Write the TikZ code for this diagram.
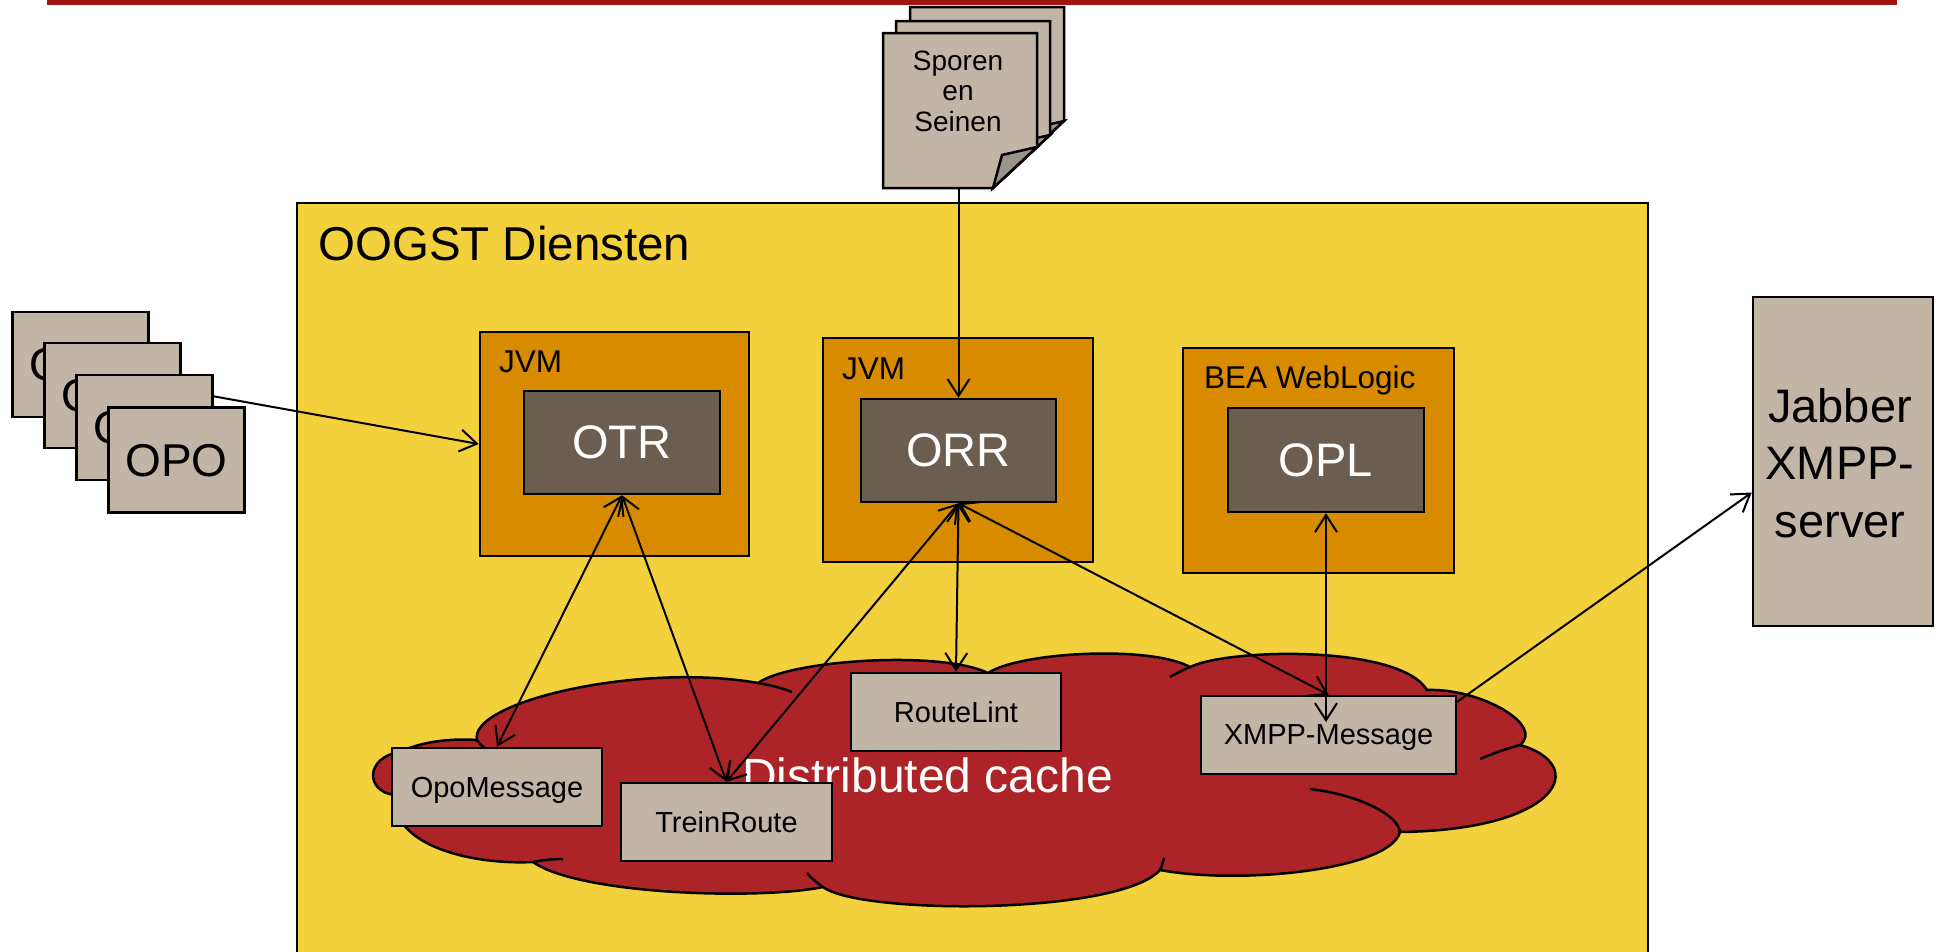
\documentclass[tikz,border=0pt]{standalone}
\usepackage{fontspec}
\setmainfont{Liberation Sans}
\usetikzlibrary{arrows.meta,calc}
\definecolor{gold}{RGB}{242,209,60}
\definecolor{jvmorange}{RGB}{217,139,0}
\definecolor{darkbox}{RGB}{107,94,81}
\definecolor{beige}{RGB}{193,181,166}
\definecolor{cloudred}{RGB}{172,36,40}
\definecolor{topred}{RGB}{160,20,20}
\definecolor{flapgray}{RGB}{155,148,138}
\begin{document}
\begin{tikzpicture}[x=1pt,y=-1pt,
  boxbase/.style={draw=black, line width=2.5pt, inner sep=0pt, text depth=0pt, rectangle},
  beigebox/.style={boxbase, fill=beige},
  jvmbox/.style={boxbase, fill=jvmorange},
  procbox/.style={boxbase, fill=darkbox, text=white, font=\fontsize{47}{56}\selectfont},
  smallbox/.style={beigebox, minimum width=#1, minimum height=78pt, font=\fontsize{29}{35}\selectfont},
  opobox/.style={beigebox, minimum width=136pt, minimum height=105pt, font=\fontsize{46}{55}\selectfont},
  page/.style={draw=black, line width=2.5pt, fill=beige, line join=miter},
  flap/.style={draw=black, line width=2.5pt, fill=flapgray, line join=miter},
  cloudline/.style={draw=black, line width=2.5pt},
  arr/.style={line width=2pt, -{Straight Barb[length=17pt,width=22pt]}},
  darr/.style={line width=2pt, {Straight Barb[length=17pt,width=22pt]}-{Straight Barb[length=17pt,width=22pt]}},
  lbl/.style={anchor=base west, inner sep=0pt, font=\fontsize{31.5}{37}\selectfont}
]
\useasboundingbox (0,0) rectangle (1936,951);
\fill[white] (0,0) rectangle (1936,951);

% top rule
\fill[topred] (47,0) rectangle (1897,5);

% OOGST Diensten container
\draw[line width=2.5pt, fill=gold] (297,203) rectangle (1648,980);
\node[anchor=base west, inner sep=0pt, font=\fontsize{47.5}{56}\selectfont] (title) at (318,260) {OOGST Diensten};

% Sporen en Seinen stack
\begin{scope}[shift={(27,-26)}]
  \draw[page] (883,33) -- (1037,33) -- (1037,147) -- (993,188) -- (883,188) -- cycle;
  \draw[flap] (1037,147) -- (1002,155) -- (993,188) -- cycle;
\end{scope}
\begin{scope}[shift={(13,-12)}]
  \draw[page] (883,33) -- (1037,33) -- (1037,147) -- (993,188) -- (883,188) -- cycle;
  \draw[flap] (1037,147) -- (1002,155) -- (993,188) -- cycle;
\end{scope}
\draw[page] (883,33) -- (1037,33) -- (1037,147) -- (993,188) -- (883,188) -- cycle;
\draw[flap] (1037,147) -- (1002,155) -- (993,188) -- cycle;
\node[minimum width=154pt, minimum height=155pt, inner sep=0pt] (sp) at (960,110.5) {};
\node[align=center, inner sep=0pt, font=\fontsize{28}{30.5}\selectfont] (sptext) at (958,91) {Sporen\\en\\Seinen};

% OPO stack
\node[opobox] (opo1) at (80.5,364.5) {OPO};
\node[opobox] (opo2) at (112.5,395.5) {OPO};
\node[opobox] (opo3) at (144.5,427.5) {OPO};
\node[opobox] (opo4) at (176.5,460) {OPO};

% Jabber
\node[beigebox, minimum width=180pt, minimum height=329pt] (jabber) at (1843,461.5) {};
\node[align=center, inner sep=0pt, font=\fontsize{47}{57.5}\selectfont] (jabtext) at (1840,463) {Jabber\\XMPP-\\server};

% JVM / WebLogic containers
\node[jvmbox, minimum width=269pt, minimum height=224pt] (jvm1) at (614.5,444) {};
\node[lbl] (jvm1l) at (499,372) {JVM};
\node[procbox, minimum width=196pt, minimum height=103pt] (otr) at (622,442.5) {OTR};

\node[jvmbox, minimum width=270pt, minimum height=224pt] (jvm2) at (958,450) {};
\node[lbl] (jvm2l) at (842,379) {JVM};
\node[procbox, minimum width=195pt, minimum height=103pt] (orr) at (958.5,450.5) {ORR};

\node[jvmbox, minimum width=271pt, minimum height=225pt] (bea) at (1318.5,460.5) {};
\node[lbl] (beal) at (1204,388) {BEA WebLogic};
\node[procbox, minimum width=196pt, minimum height=104pt] (opl) at (1326,460) {OPL};

% Distributed cache cloud
\path[fill=cloudred, cloudline] (395,795)
 .. controls (365,792) and (365,757) .. (400,752)
 .. controls (420,742) and (450,738) .. (477,740)
 .. controls (468,702) and (640,662) .. (758,683)
 .. controls (790,660) and (940,650) .. (988,673)
 .. controls (1020,652) and (1150,645) .. (1190,667)
 .. controls (1230,648) and (1400,645) .. (1427,690)
 .. controls (1480,688) and (1545,725) .. (1520,745)
 .. controls (1590,765) and (1560,830) .. (1400,832)
 .. controls (1390,870) and (1240,885) .. (1160,870)
 .. controls (1120,915) and (860,915) .. (823,887)
 .. controls (760,900) and (580,895) .. (533,862)
 .. controls (470,865) and (390,845) .. (395,795) -- cycle;
\draw[cloudline] (533,862) .. controls (543,860) and (553,859) .. (563,859);
\draw[cloudline] (758,683) .. controls (770,685) and (782,688) .. (792,692);
\draw[cloudline] (823,887) .. controls (816,882) and (810,877) .. (807,873);
\draw[cloudline] (1190,667) .. controls (1183,670) and (1177,673) .. (1170,677);
\draw[cloudline] (1520,745) .. controls (1505,749) and (1492,754) .. (1480,759);
\draw[cloudline] (1400,832) .. controls (1398,815) and (1360,795) .. (1310,789);
\draw[cloudline] (1160,870) .. controls (1162,866) and (1163,862) .. (1164,858);
\draw[cloudline] (477,740) .. controls (479,743) and (482,746) .. (485,748);
\node[anchor=base west, inner sep=0pt, text=white, font=\fontsize{48}{56}\selectfont] (dc) at (742,792) {Distributed cache};

% cache entries
\node[smallbox=210pt] (opomsg) at (497,787) {OpoMessage};
\node[smallbox=211pt] (trein) at (726.5,822) {TreinRoute};
\node[smallbox=210pt] (lint) at (956,712) {RouteLint};
\node[smallbox=255pt] (xmpp) at (1328.5,735) {XMPP-Message};

% connectors
\draw[arr] (sp.south -| orr.north) -- (orr.north);
\draw[arr] ($(opo3.north east)!0.21!(opo3.south east)$) -- (jvm1.west);
\draw[darr] (otr.south) -- (opomsg.north);
\draw[darr] (otr.south) -- (trein.north);
\draw[darr] (orr.south) -- (trein.north);
\draw[darr] (orr.south) -- (lint.north);
\draw[darr] (orr.south) -- (xmpp.north);
\coordinate (xin) at (1326,722);
\draw[darr] (opl.south) -- (xin);
\draw[arr] ([yshift=-7pt]xmpp.north east) -- ([yshift=-31pt]jabber.west);
\end{tikzpicture}
\end{document}
